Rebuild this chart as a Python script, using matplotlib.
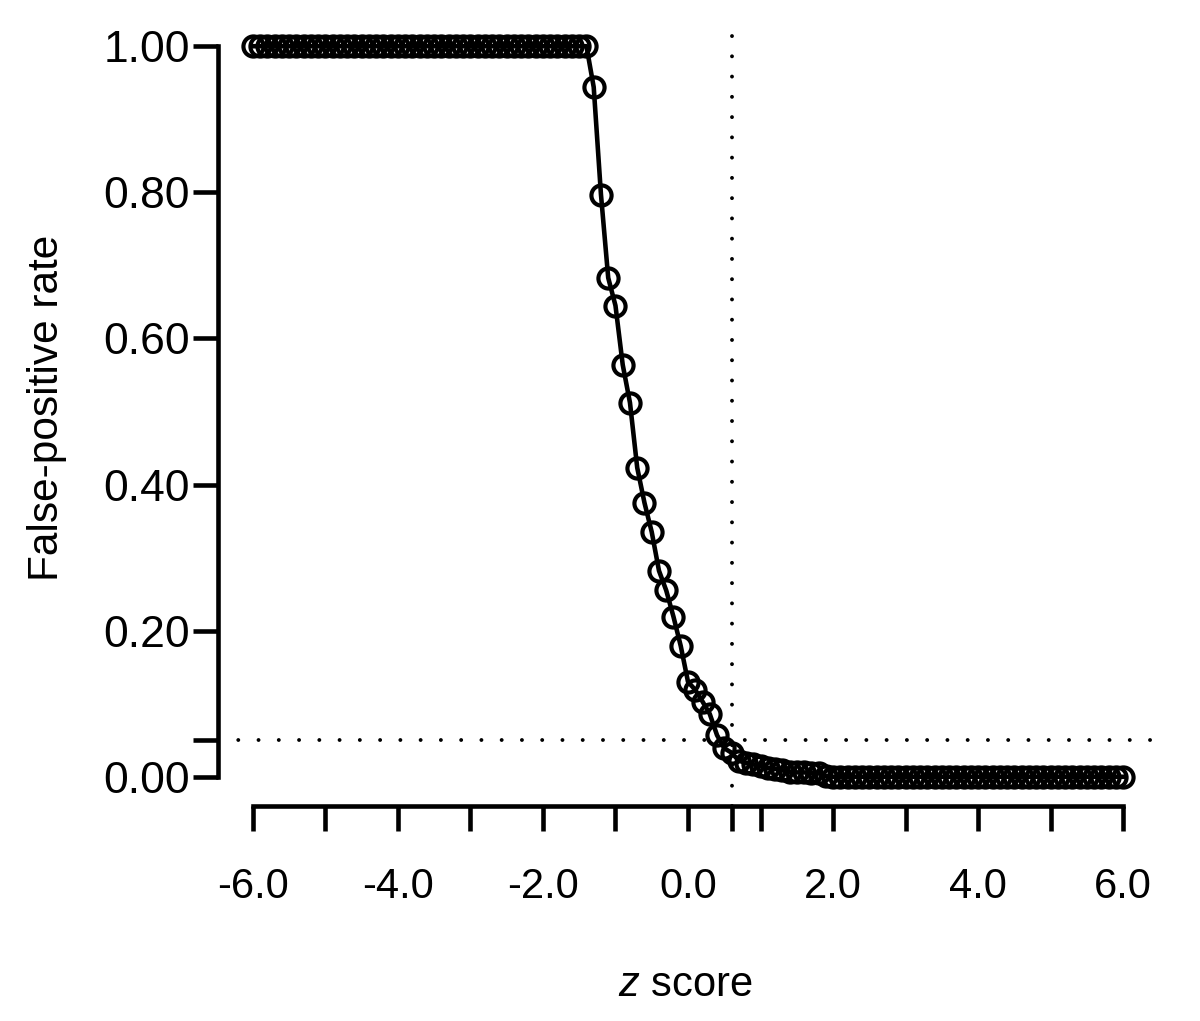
import numpy as np
import matplotlib
matplotlib.use("Agg")
import matplotlib.pyplot as plt

plt.rcParams['font.family'] = ['Liberation Sans', 'DejaVu Sans']
plt.rcParams['mathtext.fontset'] = 'custom'
plt.rcParams['mathtext.rm'] = 'Liberation Sans'
plt.rcParams['mathtext.it'] = 'Liberation Sans:italic'

# z grid, step 0.1 from -6 to 6
z = np.round(np.arange(-60, 61) / 10.0, 1)

# false-positive rate
fpr_top = [1.0] * 47          # z = -6.0 .. -1.4
fpr_mid = [0.944, 0.797, 0.683, 0.645, 0.564, 0.512, 0.423, 0.375, 0.335,
           0.282, 0.255, 0.219, 0.179, 0.130, 0.119, 0.103, 0.086, 0.057,
           0.039, 0.033, 0.022, 0.019, 0.017, 0.015, 0.012, 0.011, 0.009,
           0.007, 0.006, 0.006, 0.005, 0.005, 0.001]   # z = -1.3 .. 1.9
fpr_low = [0.0] * 41          # z = 2.0 .. 6.0
fpr = fpr_top + fpr_mid + fpr_low

alpha = 0.05
z_cut = 0.6

xticks = [-6, -5, -4, -3, -2, -1, 0, z_cut, 1, 2, 3, 4, 5, 6]
xlabels = ['-6.0', '', '-4.0', '', '-2.0', '', '0.0', '', '', '2.0', '', '4.0', '', '6.0']
yticks = [0.0, alpha, 0.2, 0.4, 0.6, 0.8, 1.0]
ylabels = ['0.00', '', '0.20', '0.40', '0.60', '0.80', '1.00']

fig = plt.figure(figsize=(12, 10.21), dpi=100)
ax = fig.add_axes([218/1200, 1 - 806/1021, (1158-218)/1200, (806-17)/1021])

lw = 3.3
ax.plot(z, fpr, color='black', lw=lw, marker='o', ms=14.5, mfc='none',
        mec='black', mew=3.0, zorder=3)

dot = dict(color='black', lw=2.8, linestyle=(0, (0.01, 5.2)),
           dash_capstyle='round')
ax.axhline(alpha, **dot)
ax.axvline(z_cut, **dot)

ax.set_xlim(-6.48, 6.48)
ax.set_ylim(-0.04, 1.04)

for s in ['top', 'right']:
    ax.spines[s].set_visible(False)
ax.spines['left'].set_bounds(0, 1)
ax.spines['bottom'].set_bounds(-6, 6)
ax.spines['left'].set_linewidth(lw)
ax.spines['bottom'].set_linewidth(lw)

ax.set_xticks(xticks)
ax.set_xticklabels(xlabels)
ax.set_yticks(yticks)
ax.set_yticklabels(ylabels)
ax.tick_params(axis='both', length=18, width=lw, direction='out')
ax.tick_params(axis='x', pad=26, labelsize=30)
ax.tick_params(axis='y', pad=2, labelsize=32)

fig.text(47/1200, 1 - 408/1021, 'False-positive rate', rotation=90,
         ha='center', va='center', fontsize=30.5)
fig.text(685/1200, 1 - 985/1021, '$z$ score', ha='center', va='center',
         fontsize=30)

fig.savefig('out.png', dpi=100)
